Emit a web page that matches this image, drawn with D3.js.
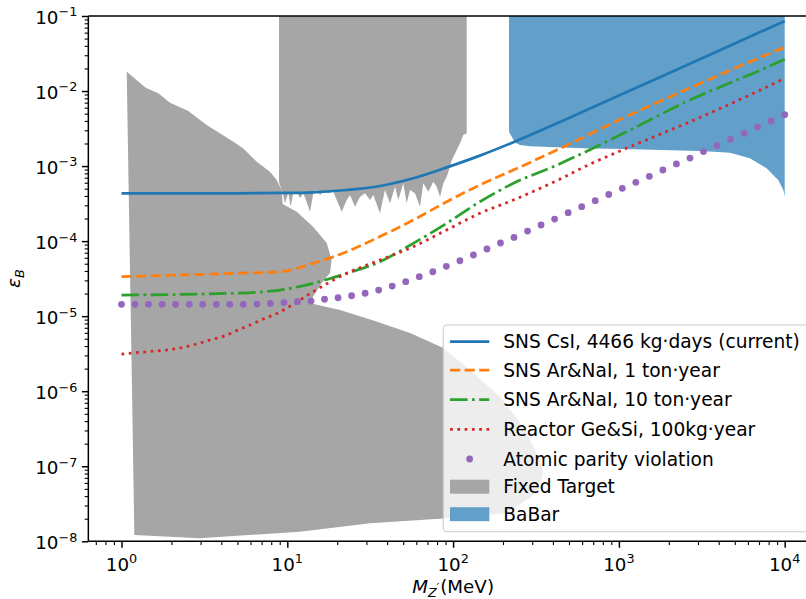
<!DOCTYPE html>
<html><head><meta charset="utf-8">
<script src="https://cdn.jsdelivr.net/npm/d3@7"></script>
<style>
body{margin:0;background:#fff}
svg{display:block}
text{font-family:"DejaVu Sans",sans-serif;fill:#000}
</style>
</head><body>
<svg id="chart" width="806" height="599"></svg>
<script>
// ---------------- data ----------------
const csiM   = [1, 5, 10, 14.3, 22.8, 36.2, 57.5, 91.5, 145, 231, 500, 1000, 2000, 5000, 10000];
const csiEps = [4.33e-4, 4.34e-4, 4.38e-4, 4.47e-4, 4.80e-4, 5.43e-4, 6.88e-4, 9.6e-4, 1.38e-3, 2.08e-3, 4.38e-3, 8.7e-3, 1.73e-2, 4.31e-2, 8.58e-2];

const ar1M   = [1, 4.73, 9.04, 14.3, 22.8, 36.2, 57.5, 91.5, 145, 231, 422, 1063, 2685, 6780, 10000];
const ar1Eps = [3.36e-5, 3.72e-5, 3.91e-5, 5.06e-5, 7.22e-5, 1.15e-4, 1.91e-4, 3.35e-4, 5.60e-4, 8.87e-4, 1.64e-3, 4.37e-3, 1.10e-2, 2.68e-2, 3.83e-2];

const ar10M   = [1, 4.73, 9.04, 14.3, 22.8, 36.2, 57.5, 91.5, 145, 231, 422, 1063, 2685, 6780, 10000];
const ar10Eps = [1.91e-5, 2.02e-5, 2.23e-5, 2.74e-5, 3.72e-5, 5.32e-5, 9.35e-5, 1.73e-4, 3.35e-4, 5.89e-4, 1.03e-3, 2.73e-3, 7.6e-3, 1.81e-2, 2.65e-2];

const reacM   = [1, 1.42, 1.87, 2.36, 2.84, 3.42, 4.21, 5.06, 6.10, 7.34, 8.91, 10.7, 14.3, 22.8, 36.2, 57.5, 91.5, 145, 231, 422, 669, 1063, 2685, 6780, 10000];
const reacEps = [3.13e-6, 3.36e-6, 3.54e-6, 3.85e-6, 4.26e-6, 4.81e-6, 5.49e-6, 6.55e-6, 7.80e-6, 9.36e-6, 1.12e-5, 1.41e-5, 2.12e-5, 3.72e-5, 5.60e-5, 8.43e-5, 1.41e-4, 2.35e-4, 3.53e-4, 6.4e-4, 1.06e-3, 1.66e-3, 3.9e-3, 9.8e-3, 1.48e-2];

const apvM = [1, 1.207, 1.456, 1.758, 2.121, 2.560, 3.089, 3.728, 4.498, 5.429, 6.551, 7.906, 9.541, 11.51, 13.90, 16.77, 20.24, 24.42, 29.47, 35.56, 42.92, 51.79, 62.51, 75.43, 91.03, 109.9, 132.6, 160.0, 193.1, 233.0, 281.2, 339.3, 409.5, 494.2, 596.4, 719.7, 868.5, 1048, 1265, 1526, 1842, 2223, 2683, 3237, 3907, 4715, 5690, 6866, 8286, 10000];
const apvEps = [1.44e-5, 1.44e-5, 1.44e-5, 1.44e-5, 1.44e-5, 1.44e-5, 1.44e-5, 1.44e-5, 1.44e-5, 1.44e-5, 1.45e-5, 1.48e-5, 1.52e-5, 1.56e-5, 1.59e-5, 1.68e-5, 1.76e-5, 1.87e-5, 2.02e-5, 2.23e-5, 2.52e-5, 2.88e-5, 3.36e-5, 3.91e-5, 4.61e-5, 5.48e-5, 6.53e-5, 7.85e-5, 9.44e-5, 1.12e-4, 1.36e-4, 1.64e-4, 1.97e-4, 2.39e-4, 2.88e-4, 3.46e-4, 4.18e-4, 5.06e-4, 6.08e-4, 7.31e-4, 8.87e-4, 1.07e-3, 1.28e-3, 1.56e-3, 1.87e-3, 2.28e-3, 2.74e-3, 3.32e-3, 3.99e-3, 4.84e-3];

// Fixed target: lower region outline (M, eps)
const ftLowM   = [1.075, 1.40, 1.667, 1.961, 2.53, 3.266, 4.73, 5.43, 6.54, 7.86, 8.63, 9.25, 9.38, 11.4, 14.3, 17.3, 18.5, 18.1, 16.1, 14.3, 14.0, 20.8, 33.8, 55.0, 87.3, 126.5, 191.8, 265, 334, 350, 319, 210, 87.3, 31.5, 11.9, 2.97, 1.195, 1.152, 1.125];
const ftLowEps = [1.81e-2, 1.11e-2, 9.33e-3, 7.0e-3, 5.42e-3, 3.53e-3, 2.11e-3, 1.72e-3, 1.14e-3, 8.41e-4, 6.53e-4, 4.80e-4, 3.12e-4, 2.47e-4, 1.56e-4, 9.44e-5, 5.60e-5, 3.76e-5, 2.77e-5, 1.82e-5, 1.48e-5, 1.21e-5, 8.61e-6, 5.97e-6, 3.77e-6, 1.92e-6, 8.45e-7, 3.37e-7, 1.21e-7, 8.05e-8, 4.36e-8, 2.36e-8, 2.02e-8, 1.74e-8, 1.34e-8, 1.10e-8, 1.21e-8, 1.92e-6, 4.12e-5];

// Fixed target: upper (beam dump) region, jagged lower edge then closed at the top
const ftHighM   = [8.91, 9.03, 9.38, 9.68, 10.14, 10.48, 10.87, 11.40, 11.93, 12.49, 13.09, 13.71, 14.35, 15.04, 15.75, 16.49, 17.67, 18.95, 19.86, 21.29, 22.82, 23.89, 25.61, 27.45, 29.43, 31.54, 33.02, 36.24, 38.84, 41.64, 44.63, 46.72, 50.07, 52.49, 54.95, 58.9, 63.15, 66.1, 70.9, 75.97, 79.6, 83.4, 87.3, 91.5, 95.8, 98.1, 105.1, 110.1, 115.2, 120.8, 120.8, 8.91];
const ftHighEps = [6.14e-4, 5.60e-4, 4.34e-4, 3.19e-4, 4.38e-4, 2.88e-4, 4.38e-4, 4.56e-4, 3.76e-4, 4.34e-4, 3.35e-4, 2.47e-4, 4.34e-4, 4.80e-4, 4.12e-4, 4.56e-4, 4.34e-4, 4.56e-4, 3.53e-4, 2.47e-4, 3.53e-4, 4.12e-4, 2.88e-4, 3.91e-4, 4.34e-4, 3.53e-4, 4.12e-4, 2.35e-4, 4.80e-4, 3.19e-4, 5.31e-4, 3.53e-4, 5.90e-4, 3.19e-4, 4.80e-4, 4.34e-4, 2.88e-4, 5.90e-4, 4.56e-4, 6.19e-4, 5.31e-4, 3.91e-4, 5.90e-4, 7.22e-4, 9.81e-4, 1.20e-3, 1.64e-3, 2.01e-3, 2.60e-3, 2.74e-3, 0.2, 0.2];

// BaBar region outline
const babarM   = [217.4, 217.4, 218.9, 225.6, 236, 253.4, 291, 421.7, 669, 1063, 2684, 3540, 4675, 6170, 7776, 9138, 9810, 10000, 10000];
const babarEps = [0.2, 3.03e-3, 2.76e-3, 2.47e-3, 2.06e-3, 1.91e-3, 1.84e-3, 1.78e-3, 1.72e-3, 1.69e-3, 1.60e-3, 1.56e-3, 1.51e-3, 1.27e-3, 9.34e-4, 6.52e-4, 4.80e-4, 3.91e-4, 0.2];

const xMajor = [1, 10, 100, 1000, 10000];
const xMajorExp = ["0", "1", "2", "3", "4"];
const yMajor = [1e-8, 1e-7, 1e-6, 1e-5, 1e-4, 1e-3, 1e-2, 1e-1];
const yMajorExp = ["\u22128", "\u22127", "\u22126", "\u22125", "\u22124", "\u22123", "\u22122", "\u22121"];

const legendLabels = ["SNS CsI, 4466 kg\u00b7days (current)", "SNS Ar&NaI, 1 ton\u00b7year", "SNS Ar&NaI, 10 ton\u00b7year", "Reactor Ge&Si, 100kg\u00b7year", "Atomic parity violation", "Fixed Target", "BaBar"];

// ---------------- layout ----------------
const L = 88.34, R = 817.86, T = 16, B = 541.3;
const FS = 18.3, LFS = 18.6;
const svg = d3.select("#chart");
const x = d3.scaleLog().domain([Math.pow(10, -0.2), Math.pow(10, 4.2)]).range([L, R]);
const y = d3.scaleLog().domain([1e-8, 1e-1]).range([B, T]);

const zip = (a, b) => a.map((v, i) => [v, b[i]]);
const colors = {csi: "#1f77b4", ar1: "#ff7f0e", ar10: "#2ca02c", reac: "#d62728", apv: "#9467bd", ft: "#a6a6a6", babar: "#62a0ca"};
const LW = 2.75;

svg.append("defs").append("clipPath").attr("id", "clip")
  .append("rect").attr("x", L).attr("y", T).attr("width", R - L).attr("height", B - T);
const plot = svg.append("g").attr("clip-path", "url(#clip)");

const poly = d3.line().x(d => x(d[0])).y(d => y(d[1]));
plot.append("path").attr("d", poly(zip(ftLowM, ftLowEps)) + "Z").attr("fill", colors.ft);
plot.append("path").attr("d", poly(zip(ftHighM, ftHighEps)) + "Z").attr("fill", colors.ft);
plot.append("path").attr("d", poly(zip(babarM, babarEps)) + "Z").attr("fill", colors.babar);

const curve = d3.line().x(d => x(d[0])).y(d => y(d[1])).curve(d3.curveMonotoneX);
const series = [
  {m: csiM, e: csiEps, c: colors.csi, dash: null},
  {m: ar1M, e: ar1Eps, c: colors.ar1, dash: [10.2, 4.4]},
  {m: ar10M, e: ar10Eps, c: colors.ar10, dash: [17.6, 4.4, 2.75, 4.4]},
  {m: reacM, e: reacEps, c: colors.reac, dash: [2.75, 4.55]}
];
series.forEach(s => {
  plot.append("path").attr("d", curve(zip(s.m, s.e))).attr("fill", "none")
    .attr("stroke", s.c).attr("stroke-width", LW)
    .attr("stroke-dasharray", s.dash ? s.dash.join(",") : null);
});
plot.selectAll("circle.apv").data(zip(apvM, apvEps)).enter().append("circle")
  .attr("class", "apv").attr("cx", d => x(d[0])).attr("cy", d => y(d[1])).attr("r", 3.4)
  .attr("fill", colors.apv);

// ---------------- axes ----------------
const minorX = [];
[-1, 0, 1, 2, 3, 4].forEach(p => { for (let k = 2; k <= 9; k++) { const v = k * Math.pow(10, p); if (v > x.domain()[0] && v < x.domain()[1]) minorX.push(v); } });
const minorY = [];
[-8, -7, -6, -5, -4, -3, -2].forEach(p => { for (let k = 2; k <= 9; k++) minorY.push(k * Math.pow(10, p)); });

const ax = svg.append("g");
const xAxisMaj = d3.axisBottom(x).tickValues(xMajor).tickSize(6.4).tickFormat("");
const xAxisMin = d3.axisBottom(x).tickValues(minorX).tickSize(3.7).tickFormat("");
const yAxisMaj = d3.axisLeft(y).tickValues(yMajor).tickSize(6.4).tickFormat("");
const yAxisMin = d3.axisLeft(y).tickValues(minorY).tickSize(3.7).tickFormat("");
[[xAxisMaj, 1.5], [xAxisMin, 1.1]].forEach(([a, w]) => {
  const g = ax.append("g").attr("transform", `translate(0,${B})`).call(a);
  g.select(".domain").remove();
  g.selectAll("line").attr("stroke", "#000").attr("stroke-width", w);
});
[[yAxisMaj, 1.5], [yAxisMin, 1.1]].forEach(([a, w]) => {
  const g = ax.append("g").attr("transform", `translate(${L},0)`).call(a);
  g.select(".domain").remove();
  g.selectAll("line").attr("stroke", "#000").attr("stroke-width", w);
});
// spines
ax.append("line").attr("x1", L).attr("x2", L).attr("y1", T).attr("y2", B).attr("stroke", "#000").attr("stroke-width", 1.5);
ax.append("line").attr("x1", L).attr("x2", R).attr("y1", B).attr("y2", B).attr("stroke", "#000").attr("stroke-width", 1.5);
ax.append("line").attr("x1", L).attr("x2", R).attr("y1", T).attr("y2", T).attr("stroke", "#000").attr("stroke-width", 1.5);
ax.append("line").attr("x1", R).attr("x2", R).attr("y1", T).attr("y2", B).attr("stroke", "#000").attr("stroke-width", 1.5);

function powLabel(parent, px, py, exp, anchor) {
  const t = parent.append("text").attr("x", px).attr("y", py).attr("text-anchor", anchor).style("font-size", FS + "px");
  t.append("tspan").text("10");
  t.append("tspan").attr("dy", -7.4).style("font-size", (FS * 0.7) + "px").text(exp);
  return t;
}
xMajor.forEach((v, i) => powLabel(svg, x(v), 570.7, xMajorExp[i], "middle"));
yMajor.forEach((v, i) => powLabel(svg, 77.3, y(v) + 7.8, yMajorExp[i], "end"));

// axis labels
const xl = svg.append("text").attr("x", (L + R) / 2).attr("y", 593).attr("text-anchor", "middle").style("font-size", FS + "px");
xl.append("tspan").style("font-style", "italic").text("M");
xl.append("tspan").attr("dy", 4).style("font-style", "italic").style("font-size", (FS * 0.7) + "px").text("Z");
xl.append("tspan").attr("dy", -6).style("font-size", (FS * 0.6) + "px").text("\u2032");
xl.append("tspan").attr("dy", 2).attr("dx", 1).text("(MeV)");
const yl = svg.append("text").attr("transform", `translate(20,${(T + B) / 2}) rotate(-90)`).attr("text-anchor", "middle").style("font-size", FS + "px");
yl.append("tspan").style("font-style", "italic").text("\u03b5");
yl.append("tspan").attr("dy", 4).style("font-style", "italic").style("font-size", (FS * 0.7) + "px").text("B");

// ---------------- legend ----------------
const lg = svg.append("g");
lg.append("rect").attr("x", 443.3).attr("y", 325).attr("width", 380).attr("height", 206.7).attr("rx", 3.7)
  .attr("fill", "#fff").attr("fill-opacity", 0.8).attr("stroke", "#cccccc").attr("stroke-width", 1.1);
const rowYs = [341.7, 370.2, 399.6, 429.4, 459.0, 486.7, 514.2];
const hx0 = 450, hx1 = 489.3;
series.forEach((s, i) => {
  lg.append("line").attr("x1", hx0).attr("x2", hx1).attr("y1", rowYs[i]).attr("y2", rowYs[i])
    .attr("stroke", s.c).attr("stroke-width", LW).attr("stroke-dasharray", s.dash ? s.dash.join(",") : null);
});
lg.append("circle").attr("cx", (hx0 + hx1) / 2).attr("cy", rowYs[4]).attr("r", 3.4).attr("fill", colors.apv);
lg.append("rect").attr("x", hx0).attr("y", rowYs[5] - 7).attr("width", hx1 - hx0).attr("height", 14).attr("fill", colors.ft);
lg.append("rect").attr("x", hx0).attr("y", rowYs[6] - 7).attr("width", hx1 - hx0).attr("height", 14).attr("fill", colors.babar);
legendLabels.forEach((t, i) => {
  lg.append("text").attr("x", 503.3).attr("y", rowYs[i] + 6.7).style("font-size", LFS + "px").text(t);
});
</script>
</body></html>
